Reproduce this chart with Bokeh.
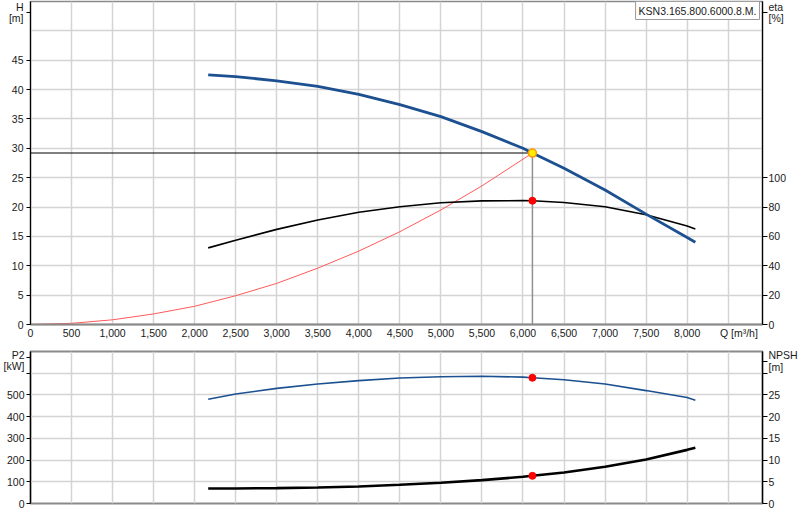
from bokeh.plotting import figure
from bokeh.models import Range1d, LinearAxis, FixedTicker, NumeralTickFormatter, Label
from bokeh.layouts import column
from bokeh.embed import file_html
from bokeh.resources import INLINE

# ---------------- data ----------------
q_pump = [2165, 2500, 3000, 3500, 4000, 4500, 5000, 5500, 6000, 6115, 6500, 7000, 7500, 8000, 8100]
head_m = [42.5, 42.2, 41.5, 40.55, 39.2, 37.45, 35.4, 32.85, 30.0, 29.2, 26.6, 22.9, 18.8, 14.8, 14.0]
eta_pct = [52.2, 57.4, 64.8, 71.2, 76.4, 80.2, 82.9, 84.2, 84.4, 84.3, 83.1, 80.2, 74.8, 67.1, 65.1]
p2_kw = [69.3, 69.4, 70.9, 73.9, 78.5, 86.2, 95.4, 107.7, 123.0, 127.5, 143.0, 169.0, 202.8, 247.0, 257.0]
npsh_m = [24.0, 25.2, 26.5, 27.5, 28.3, 28.9, 29.2, 29.3, 29.1, 28.95, 28.5, 27.5, 26.0, 24.4, 23.8]

q_system = [0, 500, 1000, 1500, 2000, 2500, 3000, 3500, 4000, 4500, 5000, 5500, 6115]
h_system = [0, 0.2, 0.8, 1.8, 3.1, 4.9, 7.0, 9.6, 12.5, 15.8, 19.5, 23.6, 29.2]

q_duty = 6115
h_duty = 29.2
eta_duty = 84.3
p2_duty = 127.5
npsh_duty = 28.95

x_ticks = list(range(0, 8001, 500))
x_grid = list(range(0, 9001, 500))
h_ticks = list(range(0, 46, 5))
h_grid = list(range(0, 51, 5))
eta_ticks = list(range(0, 101, 20))
p2_ticks = list(range(0, 601, 100))
npsh_ticks = list(range(0, 31, 5))

model_name = "KSN3.165.800.6000.8.M."
q_title = "Q [m³/h]"
h_title = "H\n[m]"
eta_title = "eta\n[%]"
p2_title = "P2\n[kW]"
npsh_title = "NPSH\n[m]"

# positions of the unit captions along the axes (layout only)
Q_TITLE_AT = 8630
H_TITLE_AT = 53.1
ETA_TITLE_AT = 212.4
P2_TITLE_AT = 672
NPSH_TITLE_AT = 32.8

# ---------------- style ----------------
FONT = "Liberation Sans"
FS = "10.5px"
TXT = "#1a1a1a"
BLUE = "#1c5090"
GRID = "#d4d4d4"
FRAME = "#8a8a8a"

X_MAX = 8918
H_MAX = 55
P2_MAX = 700

xr = Range1d(0, X_MAX)


def style_axis(ax, out=4, standoff=3, color="black", lw=1.2):
    ax.axis_line_color = color
    ax.axis_line_width = lw
    ax.major_tick_line_color = color
    ax.major_tick_out = out
    ax.major_tick_in = 0
    ax.minor_tick_line_color = None
    ax.major_label_standoff = standoff
    ax.major_label_text_font = FONT
    ax.major_label_text_font_size = FS
    ax.major_label_text_color = TXT
    ax.major_label_text_line_height = 0.95


# ---------------- top panel ----------------
p1 = figure(width=800, height=348, x_range=xr, y_range=Range1d(0, H_MAX),
            output_backend="svg", toolbar_location=None,
            min_border_left=29, min_border_right=37, min_border_top=1, min_border_bottom=24)
p1.extra_y_ranges = {"eta": Range1d(0, H_MAX * 4)}
eta_axis = LinearAxis(y_range_name="eta")
p1.add_layout(eta_axis, "right")
p1.outline_line_color = FRAME
p1.outline_line_width = 1.5

xa = p1.below[0]
style_axis(xa, out=0, standoff=2, color=FRAME, lw=2)
xa.ticker = FixedTicker(ticks=x_ticks + [Q_TITLE_AT])
xa.formatter = NumeralTickFormatter(format="0,0")
xa.major_label_overrides = {Q_TITLE_AT: q_title}

ya = p1.left[0]
style_axis(ya, out=4, standoff=3)
ya.ticker = FixedTicker(ticks=h_ticks + [H_TITLE_AT])
ya.major_label_overrides = {H_TITLE_AT: h_title}

style_axis(eta_axis, out=5, standoff=1)
eta_axis.ticker = FixedTicker(ticks=eta_ticks + [ETA_TITLE_AT])
eta_axis.major_label_overrides = {ETA_TITLE_AT: eta_title}

p1.xgrid.ticker = FixedTicker(ticks=x_grid)
p1.ygrid.ticker = FixedTicker(ticks=h_grid)
p1.xgrid.grid_line_color = GRID
p1.ygrid.grid_line_color = GRID
p1.xgrid.grid_line_width = 1.5
p1.ygrid.grid_line_width = 1.5

p1.line(q_system, h_system, line_color="#ff5a5a", line_width=1)
p1.line([xr.start, q_duty], [h_duty, h_duty], line_color="black", line_width=1.2)
p1.line([q_duty, q_duty], [0, h_duty], line_color="#909090", line_width=1.5)
p1.line(q_pump, eta_pct, y_range_name="eta", line_color="black", line_width=1.6)
p1.line(q_pump, head_m, line_color=BLUE, line_width=2.8)
p1.scatter([q_duty], [eta_duty], y_range_name="eta", size=7, fill_color="#ff0000", line_color="#ff0000")
p1.scatter([q_duty], [h_duty], size=8, fill_color="#ffee00", line_color="#ff9900", line_width=1.5)

p1.add_layout(Label(x=729, y=314, x_units="screen", y_units="screen", text=model_name,
                    text_align="right", text_baseline="middle", text_font=FONT,
                    text_font_size=FS, text_color=TXT, background_fill_color="white",
                    border_line_color="#9a9a9a", border_line_width=1, padding=3))

# ---------------- bottom panel ----------------
p2 = figure(width=800, height=161, x_range=xr, y_range=Range1d(0, P2_MAX),
            x_axis_location=None, output_backend="svg", toolbar_location=None,
            min_border_left=29, min_border_right=37, min_border_top=3, min_border_bottom=6)
p2.extra_y_ranges = {"npsh": Range1d(0, P2_MAX / 20)}
npsh_axis = LinearAxis(y_range_name="npsh")
p2.add_layout(npsh_axis, "right")
p2.outline_line_color = FRAME
p2.outline_line_width = 2

pa = p2.left[0]
style_axis(pa, out=4, standoff=2)
pa.ticker = FixedTicker(ticks=p2_ticks + [P2_TITLE_AT])
pa.major_label_overrides = {p2_ticks[-1]: "", P2_TITLE_AT: p2_title}

style_axis(npsh_axis, out=5, standoff=1)
npsh_axis.ticker = FixedTicker(ticks=npsh_ticks + [NPSH_TITLE_AT])
npsh_axis.major_label_overrides = {npsh_ticks[-1]: "", NPSH_TITLE_AT: npsh_title}

p2.xgrid.ticker = FixedTicker(ticks=x_grid)
p2.ygrid.ticker = FixedTicker(ticks=p2_ticks)
p2.xgrid.grid_line_color = GRID
p2.ygrid.grid_line_color = GRID
p2.xgrid.grid_line_width = 1.5
p2.ygrid.grid_line_width = 1.5

p2.line(q_pump, npsh_m, y_range_name="npsh", line_color=BLUE, line_width=1.6)
p2.line(q_pump, p2_kw, line_color="black", line_width=2.6)
p2.scatter([q_duty], [npsh_duty], y_range_name="npsh", size=7, fill_color="#ff0000", line_color="#ff0000")
p2.scatter([q_duty], [p2_duty], size=7, fill_color="#ff0000", line_color="#ff0000")

layout = column(p1, p2, spacing=0)
open("out.html", "w").write(file_html(layout, INLINE))
